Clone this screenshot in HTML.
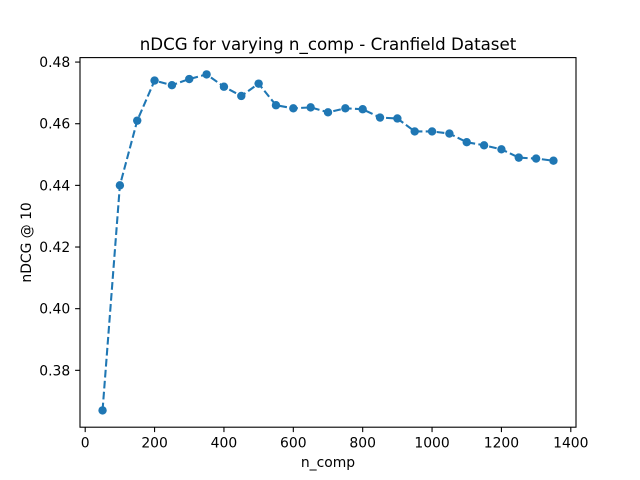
<!DOCTYPE html>
<html><head><meta charset="utf-8"><style>
body{margin:0;background:#fff;}
svg{display:block;font-family:"DejaVu Sans","Liberation Sans",sans-serif;}
</style></head><body>
<svg id="chart" width="640" height="480" viewBox="0 0 640 480">
<rect width="640" height="480" fill="#fff"/>
<text x="328" y="50" text-anchor="middle" font-size="16.67">nDCG for varying n_comp - Cranfield Dataset</text>
<g id="xt"></g>
<g id="yt"></g>
<text x="328" y="467" text-anchor="middle" font-size="13.9">n_comp</text>
<text transform="translate(31,242.4) rotate(-90)" text-anchor="middle" font-size="13.9">nDCG @ 10</text>
<g id="series"></g>
<rect x="80" y="57.6" width="496" height="369.6" fill="none" stroke="#000" stroke-width="1.1"/>
</svg>
<script>
const nComp=[50,100,150,200,250,300,350,400,450,500,550,600,650,700,750,800,850,900,950,1000,1050,1100,1150,1200,1250,1300,1350];
const ndcg=[0.367,0.440,0.461,0.474,0.4725,0.4745,0.476,0.472,0.469,0.473,0.466,0.465,0.4653,0.4637,0.465,0.4647,0.462,0.4617,0.4575,0.4575,0.4568,0.454,0.453,0.4517,0.449,0.4487,0.448];
const xTicks=[0,200,400,600,800,1000,1200,1400];
const yTicks=[0.38,0.40,0.42,0.44,0.46,0.48];
const NS='http://www.w3.org/2000/svg';
const L=80,R=576,T=57.6,B=427.2;
const xmin=Math.min(...nComp),xmax=Math.max(...nComp),xp=(xmax-xmin)*0.05;
const ymin=Math.min(...ndcg),ymax=Math.max(...ndcg),yp=(ymax-ymin)*0.05;
const X=v=>L+(v-(xmin-xp))/((xmax+xp)-(xmin-xp))*(R-L);
const Y=v=>B-(v-(ymin-yp))/((ymax+yp)-(ymin-yp))*(B-T);
function mk(t,a,p){const e=document.createElementNS(NS,t);for(const k in a)e.setAttribute(k,a[k]);p.appendChild(e);return e;}
const xt=document.getElementById('xt'),yt=document.getElementById('yt'),s=document.getElementById('series');
xTicks.forEach(v=>{const x=X(v);
const l=mk('line',{x1:x,x2:x,y1:B,y2:B+4.9,stroke:'#000','stroke-width':1.1},xt);


const t=mk('text',{x:x,y:B+20.5,'text-anchor':'middle','font-size':13.9},xt);t.textContent=v;

});
yTicks.forEach(v=>{const y=Y(v);
const l=mk('line',{x1:L-4.9,x2:L,y1:y,y2:y,stroke:'#000','stroke-width':1.1},yt);


const t=mk('text',{x:L-9.8,y:y+5,'text-anchor':'end','font-size':13.9},yt);t.textContent=v.toFixed(2);

});
const pl=mk('polyline',{points:nComp.map((v,i)=>X(v)+','+Y(ndcg[i])).join(' '),fill:'none',stroke:'#1f77b4','stroke-width':2.08,'stroke-dasharray':'7.7,3.3'},s);


nComp.forEach((v,i)=>{const c=mk('circle',{cx:X(v),cy:Y(ndcg[i]),r:4.2,fill:'#1f77b4'},s);

});
</script>
</body></html>
